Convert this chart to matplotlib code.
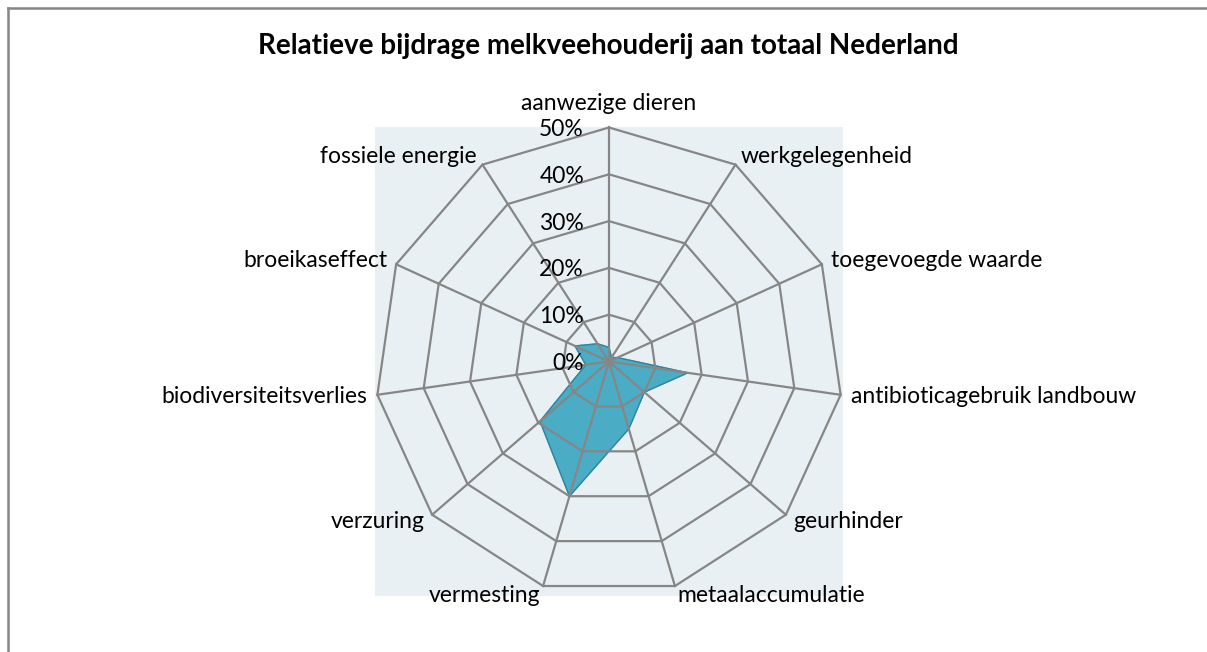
import numpy as np
import matplotlib
matplotlib.use("Agg")
import matplotlib.pyplot as plt
from matplotlib.patches import Rectangle
from matplotlib.lines import Line2D

plt.rcParams['font.family'] = ['Lato', 'DejaVu Sans']

categories = ['aanwezige dieren', 'werkgelegenheid', 'toegevoegde waarde',
              'antibioticagebruik landbouw', 'geurhinder', 'metaalaccumulatie',
              'vermesting', 'verzuring', 'biodiversiteitsverlies',
              'broeikaseffect', 'fossiele energie']
values = [0.03, 0.01, 0.02, 0.17, 0.10, 0.15, 0.30, 0.195, 0.05, 0.08, 0.045]
rings = [0.0, 0.1, 0.2, 0.3, 0.4, 0.5]
ring_labels = ['0%', '10%', '20%', '30%', '40%', '50%']
title = 'Relatieve bijdrage melkveehouderij aan totaal Nederland'

grid_col = '#868686'
W, H = 1207, 652

fig = plt.figure(figsize=(W/100, H/100), dpi=100)
ax = fig.add_axes([375/W, (H-596)/H, 468/W, 469/H], projection='polar')
ax.set_theta_zero_location('N')
ax.set_theta_direction(-1)
ax.set_ylim(0, 0.5)
ax.axis('off')

# square light background behind the web
ax.add_patch(Rectangle((0, 0), 1, 1, transform=ax.transAxes, facecolor='#E9F0F3',
                       edgecolor='none', zorder=0, clip_on=False))

n = len(categories)
theta = np.arange(n) * 2*np.pi/n
th_closed = np.append(theta, theta[0])

# data area
vals = np.append(values, values[0])
ax.fill(th_closed, vals, color='#4BACC6', zorder=2)
ax.plot(th_closed, vals, color='#31859C', lw=1.0, zorder=2)

# polygon web
for r in rings[1:]:
    ax.plot(th_closed, [r]*(n+1), color=grid_col, lw=1.6, zorder=3, clip_on=False)
for t in theta:
    ax.plot([t, t], [0, rings[-1]], color=grid_col, lw=1.6, zorder=3, clip_on=False)

# ring labels left of the vertical spoke
for r, lab in zip(rings, ring_labels):
    ax.annotate(lab, xy=(0, r), xytext=(-25, -2), textcoords='offset pixels',
                ha='right', va='center', fontsize=16.5, zorder=4, annotation_clip=False)

# category labels
for t, lab in zip(theta, categories):
    s, c = np.sin(t), np.cos(t)
    if abs(s) < 0.05:
        ha, va = 'center', 'bottom'
        dy = 14
    else:
        ha = 'left' if s > 0 else 'right'
        va = 'center'
        dy = 10*c
    ax.annotate(lab, xy=(t, rings[-1]), xytext=(10*s, dy), textcoords='offset pixels',
                ha=ha, va=va, fontsize=16.5, annotation_clip=False)

fig.text(608/W, 1 - 46/H, title, ha='center', va='center', fontsize=20, fontweight='bold')

# outer chart border: only top and left edges are inside the picture
bx, by = 7.5/W, 1 - 8/H
fig.add_artist(Line2D([bx, 1.0], [by, by], transform=fig.transFigure, color=grid_col, lw=1.8))
fig.add_artist(Line2D([bx, bx], [0.0, by], transform=fig.transFigure, color=grid_col, lw=1.8))

fig.savefig('out.png', dpi=100)
